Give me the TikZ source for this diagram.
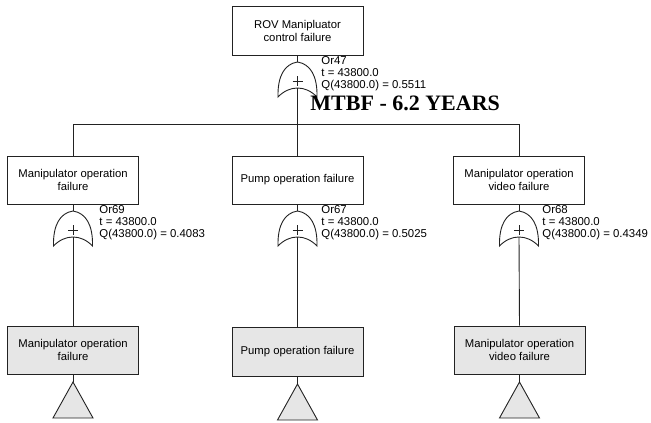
\documentclass[tikz,border=0pt]{standalone}
\usepackage{fontspec}
\setmainfont{Liberation Sans}
\newfontfamily\mtbffont{Liberation Serif}
\definecolor{boxgray}{HTML}{E6E6E6}
\definecolor{ink}{HTML}{222222}
\begin{document}
\begin{tikzpicture}[x=1pt,y=-1pt,
  line width=0.9pt, draw=ink,
  evbox/.style={draw=ink, align=center, inner sep=0pt, minimum width=131pt, minimum height=48pt,
    font=\fontsize{11.3}{13}\selectfont},
  basebox/.style={evbox, fill=boxgray},
  gatetext/.style={anchor=north west, align=left, inner sep=0pt, font=\fontsize{11.4}{11.8}\selectfont},
  link/.style={draw=ink, line width=0.9pt},
  orgate/.pic={
    \draw[ink, line width=0.9pt] (0,0) .. controls (13,2) and (20,14) .. (19.5,35)
      .. controls (8,23) and (-8,23) .. (-19.5,35)
      .. controls (-20,14) and (-13,2) .. (0,0) -- cycle;
    \draw[ink, line width=0.9pt] (-5,19) -- (5,19) (0,14) -- (0,24);
    \coordinate (-top) at (0,0);
    \coordinate (-bot) at (0,26);
  },
  transfer/.pic={
    \draw[ink, line width=0.9pt, fill=boxgray] (0,0) -- (20,36) -- (-20,36) -- cycle;
    \coordinate (-top) at (0,0);
  }]
\useasboundingbox (0,0) rectangle (651,423);

% top event
\node[evbox, minimum height=49pt] (top) at (297.5,30.5) {ROV Manipluator\\control failure};
\pic (g0) at (297.5,62) {orgate};
\node[gatetext] (g0t) at (321,56) {Or47\\t = 43800.0\\Q(43800.0) = 0.5511};
\node[anchor=west, inner sep=0pt, font=\mtbffont\bfseries\fontsize{22}{24}\selectfont] (mtbf) at (310,103) {MTBF - 6.2 YEARS};

% bar
\coordinate (barL) at (73,124);
\coordinate (barM) at (297.5,124);
\coordinate (barR) at (519,124);
\draw[link] (top.south) -- (g0-top);
\draw[link] (g0-bot) -- (barM);
\draw[link] (barL) -- (barR);

% level 2
\node[evbox] (e1) at (73,180) {Manipulator operation\\failure};
\node[evbox] (e2) at (297.5,180) {Pump operation failure};
\node[evbox] (e3) at (519,180) {Manipulator operation\\video failure};
\draw[link] (barL) -- (e1.north);
\draw[link] (barM) -- (e2.north);
\draw[link] (barR) -- (e3.north);

\pic (g1) at (73,211) {orgate};
\pic (g2) at (297.5,211) {orgate};
\pic (g3) at (519,211) {orgate};
\node[gatetext] (g1t) at (99,205.5) {Or69\\t = 43800.0\\Q(43800.0) = 0.4083};
\node[gatetext] (g2t) at (321,205.5) {Or67\\t = 43800.0\\Q(43800.0) = 0.5025};
\node[gatetext] (g3t) at (542,205.5) {Or68\\t = 43800.0\\Q(43800.0) = 0.4349};
\draw[link] (e1.south) -- (g1-top);
\draw[link] (e2.south) -- (g2-top);
\draw[link] (e3.south) -- (g3-top);

% basic events
\node[basebox] (b1) at (73,350) {Manipulator operation\\failure};
\node[basebox, minimum height=49pt] (b2) at (297.5,351.5) {Pump operation failure};
\node[basebox] (b3) at (519.5,350) {Manipulator operation\\video failure};
\draw[link] (g1-bot) -- (b1.north);
\draw[link] (g2-bot) -- (b2.north);
\draw[link] (g3-bot) -- (b3.north);

\pic (t1) at (73,382) {transfer};
\pic (t2) at (297.5,384) {transfer};
\pic (t3) at (519.5,382) {transfer};
\draw[link] (b1.south) -- (t1-top);
\draw[link] (b2.south) -- (t2-top);
\draw[link] (b3.south) -- (t3-top);
\end{tikzpicture}
\end{document}
